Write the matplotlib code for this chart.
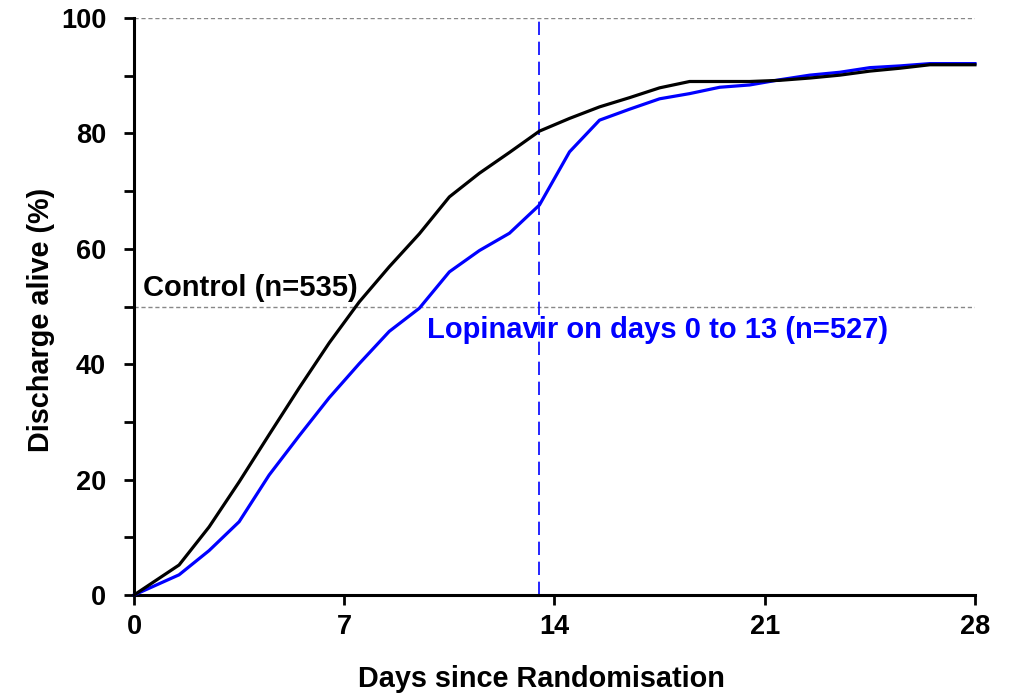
import numpy as np
import matplotlib.pyplot as plt
from matplotlib.ticker import MultipleLocator

plt.rcParams['font.family'] = ['Liberation Sans', 'DejaVu Sans']
plt.rcParams['font.weight'] = 'bold'

# days since randomisation (curve knots)
days = [0, 1.5, 2.5, 3.5, 4.5, 5.5, 6.5, 7.5, 8.5, 9.5, 10.5, 11.5, 12.5, 13.5,
        14.5, 15.5, 16.5, 17.5, 18.5, 19.5, 20.5, 21.5, 22.5, 23.5, 24.5, 25.5,
        26.5, 27.5, 28]

# discharged alive (%)
control = [0, 5.2, 11.8, 19.6, 27.8, 35.9, 43.7, 50.8, 56.9, 62.6, 69.0, 73.1,
           76.7, 80.4, 82.6, 84.6, 86.2, 87.9, 89.0, 89.0, 89.0, 89.2, 89.6,
           90.1, 90.8, 91.3, 91.9, 91.9, 91.9]
lopinavir = [0, 3.5, 7.7, 12.7, 20.8, 27.6, 34.2, 40.1, 45.7, 49.7, 56.0, 59.7,
             62.7, 67.6, 76.8, 82.3, 84.2, 86.0, 86.9, 88.0, 88.4, 89.3, 90.1,
             90.6, 91.4, 91.7, 92.1, 92.1, 92.1]

stop_day = 13.5

fig = plt.figure(figsize=(10.16, 6.96), dpi=100)
ax = fig.add_axes([0.1319, 0.1451, 0.8277, 0.829])

ax.axhline(50, color='#888888', lw=1, ls=(0, (3, 2)), zorder=1)
ax.axhline(100, color='#888888', lw=1, ls=(0, (3, 2)), zorder=1)
ax.axvline(stop_day, color='#0000ff', lw=1.2, ls=(0, (8, 4)), zorder=1)

ax.plot(days, lopinavir, color='#0000ff', lw=2.3, zorder=3, clip_on=False)
ax.plot(days, control, color='black', lw=2.3, zorder=4, clip_on=False)

ax.text(0.3, 51.8, 'Control (n=535)', fontsize=21, fontweight='bold',
        color='black', va='baseline', ha='left')
ax.text(9.76, 44.5, 'Lopinavir on days 0 to 13 (n=527)', fontsize=21,
        fontweight='bold', color='#0000ff', va='baseline', ha='left')

ax.set_xlim(0, 28)
ax.set_ylim(0, 100)
ax.set_xticks([0, 7, 14, 21, 28])
ax.yaxis.set_major_locator(MultipleLocator(20))
ax.yaxis.set_minor_locator(MultipleLocator(10))

for s in ['top', 'right']:
    ax.spines[s].set_visible(False)
for s in ['left', 'bottom']:
    ax.spines[s].set_linewidth(2.2)

ax.tick_params(which='major', length=7, width=2, labelsize=19.5, direction='out')
ax.tick_params(which='minor', length=7, width=2, direction='out')
ax.tick_params(axis='y', which='major', pad=13)
ax.tick_params(axis='x', which='major', pad=7)
for lab in ax.get_xticklabels() + ax.get_yticklabels():
    lab.set_fontweight('bold')

ax.set_xlabel('Days since Randomisation', fontsize=20.8, fontweight='bold')
ax.set_ylabel('Discharge alive (%)', fontsize=20.8, fontweight='bold')
ax.xaxis.set_label_coords(0.484, -0.145)
ax.yaxis.set_label_coords(-0.111, 0.477)
ax.xaxis.label.set_va('center')
ax.yaxis.label.set_va('center')

fig.savefig('out.png', dpi=100)
